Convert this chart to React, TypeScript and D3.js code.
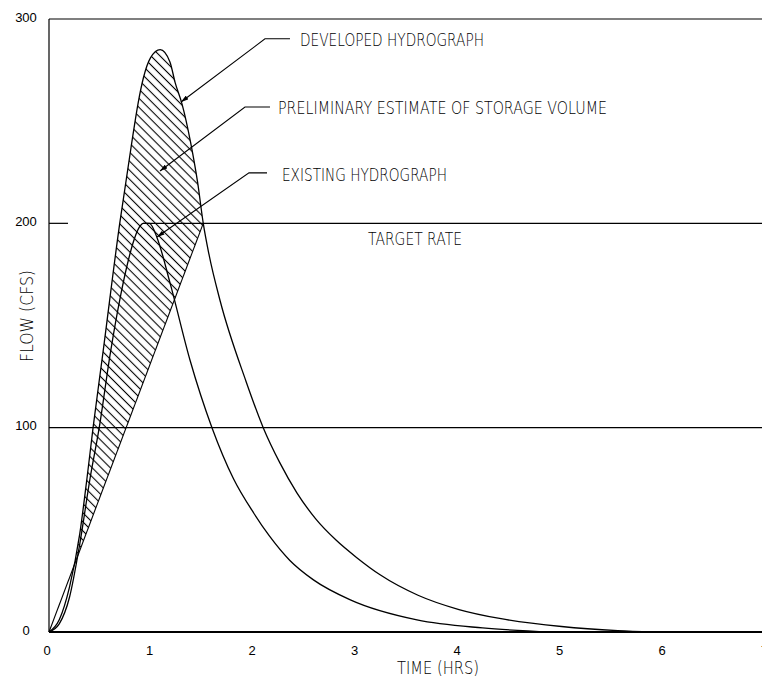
import { useEffect, useRef } from 'react';
import * as d3 from 'd3';

const width = 762;
const height = 677;

const timeTicks = [0, 1, 2, 3, 4, 5, 6, 7];
const flowTicks = [0, 100, 200, 300];
const targetRate = 200;

// developed hydrograph: [hrs, cfs]
const developed: [number, number][] = [
  [0, 0], [0.1, 6], [0.2, 22], [0.3, 48], [0.37, 75], [0.43, 100], [0.527, 137],
  [0.69, 200], [0.8, 237], [0.87, 259], [0.92, 271], [0.99, 281], [1.085, 285],
  [1.18, 279], [1.23, 269], [1.3, 258], [1.38, 240], [1.45, 220], [1.505, 200],
  [1.56, 185], [1.67, 162], [1.92, 123], [2.09, 100], [2.25, 83], [2.42, 68],
  [2.6, 55.5], [2.8, 45], [3.0, 36.5], [3.23, 28], [3.6, 18], [4.0, 11], [4.41, 6.5],
  [5.0, 2.7], [5.55, 0.7], [5.9, 0],
];

// existing hydrograph: [hrs, cfs]
const existing: [number, number][] = [
  [0, 0], [0.1, 4], [0.2, 17], [0.3, 43], [0.4, 75], [0.49, 100], [0.6, 137],
  [0.7, 165], [0.76, 179], [0.83, 192], [0.88, 198], [0.92, 200], [0.98, 200],
  [1.054, 193], [1.18, 171], [1.376, 133], [1.59, 100], [1.8, 75], [2.0, 58],
  [2.15, 47], [2.35, 35], [2.58, 25.5], [2.94, 15.7], [3.59, 5.9], [4.23, 2], [4.9, 0],
];

// storage estimate: straight line from origin to where developed drops back to target
const storageLine: [number, number][] = [[0, 0], [1.505, 200]];

// callouts, anchors in [hrs, cfs]
const calloutLabels = ['DEVELOPED HYDROGRAPH', 'PRELIMINARY ESTIMATE OF STORAGE VOLUME', 'EXISTING HYDROGRAPH'];
const calloutTips: [number, number][] = [[1.288, 259.4], [1.083, 225.6], [1.054, 193.3]];
const calloutElbows: [number, number][] = [[2.107, 290.3], [1.912, 256.9], [1.951, 224.7]];
const calloutEnds: [number, number][] = [[2.351, 290.3], [2.156, 256.9], [2.127, 224.7]];
const calloutText: [number, number][] = [[2.449, 286.8], [2.234, 253.5], [2.273, 220.8]];
const calloutWidths = [184, 329, 165];

const cadFont = "'DejaVu Sans', sans-serif";
const numFont = "'Liberation Sans', Arial, sans-serif";

const HydrographChart = () => {
  const svgRef = useRef<SVGSVGElement | null>(null);

  useEffect(() => {
    const svg = d3.select(svgRef.current);
    svg.selectAll('*').remove();

    const x = d3.scaleLinear().domain([0, 7]).range([49, 766.5]);
    const y = d3.scaleLinear().domain([0, 300]).range([632, 19]);

    const defs = svg.append('defs');

    const pattern = defs.append('pattern')
      .attr('id', 'hatch')
      .attr('patternUnits', 'userSpaceOnUse')
      .attr('width', 6.4)
      .attr('height', 6.4)
      .attr('patternTransform', 'rotate(-45)');
    pattern.append('line')
      .attr('x1', 3.2).attr('y1', -1)
      .attr('x2', 3.2).attr('y2', 7.4)
      .attr('stroke', '#000')
      .attr('stroke-width', 1.1);

    defs.append('marker')
      .attr('id', 'arrow')
      .attr('viewBox', '0 0 10 6')
      .attr('refX', 10)
      .attr('refY', 3)
      .attr('markerWidth', 8)
      .attr('markerHeight', 4.5)
      .attr('markerUnits', 'userSpaceOnUse')
      .attr('orient', 'auto')
      .append('path')
      .attr('d', 'M0,0 L10,3 L0,6 Z')
      .attr('fill', '#000');

    const curve = d3.curveMonotoneX;
    const line = d3.line<[number, number]>()
      .x(d => x(d[0]))
      .y(d => y(d[1]))
      .curve(curve);
    const straight = d3.line<[number, number]>()
      .x(d => x(d[0]))
      .y(d => y(d[1]));

    // clip = area under developed hydrograph
    const underDeveloped = d3.area<[number, number]>()
      .x(d => x(d[0]))
      .y0(y(0))
      .y1(d => y(d[1]))
      .curve(curve);
    defs.append('clipPath')
      .attr('id', 'dev-clip')
      .append('path')
      .attr('d', underDeveloped(developed));

    // region above storage line, up to the point where developed meets target
    const [p0, p1] = storageLine;
    const aboveLine: [number, number][] = [p0, p1, [p1[0], 300], [p0[0], 300]];
    svg.append('path')
      .attr('d', straight(aboveLine) + 'Z')
      .attr('fill', 'url(#hatch)')
      .attr('clip-path', 'url(#dev-clip)');

    // frame / grid
    const g = svg.append('g').attr('stroke', '#000').attr('fill', 'none');
    g.append('line')
      .attr('x1', x(0)).attr('x2', x(0))
      .attr('y1', y(300)).attr('y2', y(0))
      .attr('stroke-width', 1.2);
    g.append('line')
      .attr('x1', x(0)).attr('x2', width)
      .attr('y1', y(300)).attr('y2', y(300))
      .attr('stroke-width', 1.2);
    g.append('line')
      .attr('x1', x(0)).attr('x2', width)
      .attr('y1', y(100)).attr('y2', y(100))
      .attr('stroke-width', 1.2);
    g.append('line')
      .attr('x1', x(0)).attr('x2', x(0) + 19)
      .attr('y1', y(200)).attr('y2', y(200))
      .attr('stroke-width', 1.2);
    g.append('line')
      .attr('x1', x(0.92)).attr('x2', width)
      .attr('y1', y(targetRate)).attr('y2', y(targetRate))
      .attr('stroke-width', 1.2);
    g.append('line')
      .attr('x1', x(0)).attr('x2', width)
      .attr('y1', y(0)).attr('y2', y(0))
      .attr('stroke-width', 2.2);

    // hydrographs
    g.append('path').attr('d', line(developed)).attr('stroke-width', 1.3);
    g.append('path').attr('d', line(existing)).attr('stroke-width', 1.3);
    g.append('path').attr('d', straight(storageLine)).attr('stroke-width', 1.1);

    // tick labels
    svg.append('g')
      .selectAll('text')
      .data(flowTicks)
      .enter()
      .append('text')
      .attr('x', 26)
      .attr('y', d => y(d) + 2.5)
      .attr('text-anchor', 'middle')
      .style('font-family', numFont)
      .style('font-size', '13px')
      .text(d => d);

    svg.append('g')
      .selectAll('text')
      .data(timeTicks)
      .enter()
      .append('text')
      .attr('x', d => x(d) - 2)
      .attr('y', 655)
      .attr('text-anchor', 'middle')
      .style('font-family', numFont)
      .style('font-size', '13px')
      .text(d => d);

    const cadText = (sel: d3.Selection<SVGTextElement, unknown, null, undefined>, len: number) =>
      sel.attr('textLength', len)
        .attr('lengthAdjust', 'spacingAndGlyphs')
        .style('font-family', cadFont)
        .style('font-weight', 200)
        .style('font-size', '18px');

    // axis titles
    cadText(svg.append('text').attr('x', 397).attr('y', 674).text('TIME (HRS)'), 82);
    cadText(svg.append('text').attr('transform', 'translate(33,362) rotate(-90)').text('FLOW (CFS)'), 92);

    // target rate label
    cadText(svg.append('text').attr('x', x(3.112)).attr('y', y(189.4)).text('TARGET RATE'), 94);

    // callouts
    calloutLabels.forEach((label, i) => {
      const pts = [calloutEnds[i], calloutElbows[i], calloutTips[i]];
      svg.append('path')
        .attr('d', straight(pts))
        .attr('fill', 'none')
        .attr('stroke', '#000')
        .attr('stroke-width', 1.1)
        .attr('marker-end', 'url(#arrow)');
      cadText(
        svg.append('text')
          .attr('x', x(calloutText[i][0]))
          .attr('y', y(calloutText[i][1]))
          .text(label),
        calloutWidths[i]
      );
    });
  }, []);

  return (
    <svg
      ref={svgRef}
      width={width}
      height={height}
      style={{ position: 'absolute', left: 0, top: 0, background: '#fff', display: 'block' }}
    />
  );
};

export default function App() {
  return <HydrographChart />;
}
